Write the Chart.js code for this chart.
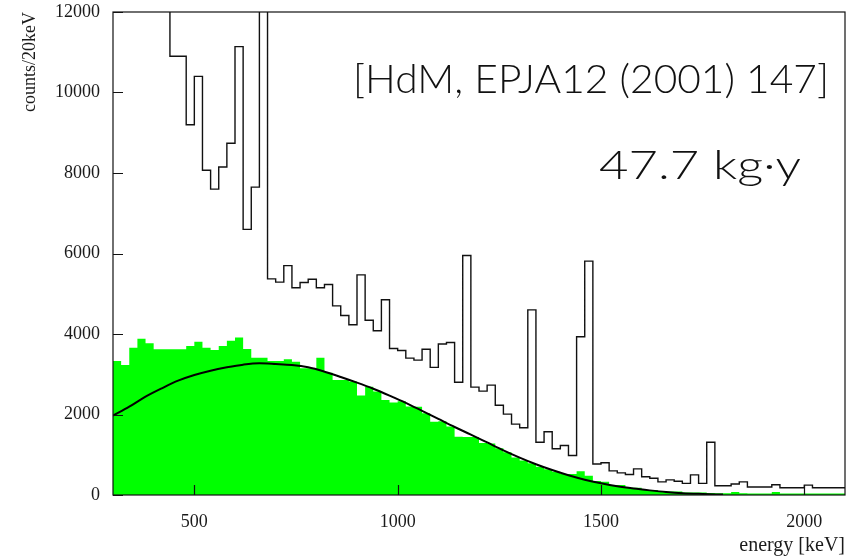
<!DOCTYPE html>
<html lang="en">
<head>
<meta charset="UTF-8">
<title>HdM spectrum</title>
<script src="https://cdn.jsdelivr.net/npm/chart.js"></script>
<style>
    body { margin: 0; background: #fff; }
    canvas { display: block; }
</style>
</head>
<body>
<canvas id="spectrum" width="848" height="558"></canvas>
<script>
// bin lower edges in keV (20 keV bins), last edge closes the histogram
const binEdges = [
    300, 320, 340, 360, 380, 400, 420, 440, 460, 480,
    500, 520, 540, 560, 580, 600, 620, 640, 660, 680,
    700, 720, 740, 760, 780, 800, 820, 840, 860, 880,
    900, 920, 940, 960, 980, 1000, 1020, 1040, 1060, 1080,
    1100, 1120, 1140, 1160, 1180, 1200, 1220, 1240, 1260, 1280,
    1300, 1320, 1340, 1360, 1380, 1400, 1420, 1440, 1460, 1480,
    1500, 1520, 1540, 1560, 1580, 1600, 1620, 1640, 1660, 1680,
    1700, 1720, 1740, 1760, 1780, 1800, 1820, 1840, 1860, 1880,
    1900, 1920, 1940, 1960, 1980, 2000, 2020, 2040, 2060, 2080
];
const lastEdge = 2100;

// full spectrum (black outline), values above 12000 run off the top
const totalCounts = [
    15000, 15000, 15000, 15000, 15000, 15000, 15000, 10900, 10900, 9200,
    10400, 8070, 7600, 8150, 8740, 11140, 6600, 7650, 20000, 5370,
    5290, 5700, 5150, 5280, 5360, 5150, 5230, 4700, 4460, 4230,
    5470, 4340, 4080, 4850, 3640, 3590, 3400, 3350, 3620, 3170,
    3750, 3790, 2800, 5950, 2680, 2580, 2730, 2230, 2010, 1760,
    1670, 4600, 1310, 1570, 1150, 1230, 980, 3930, 5810, 770,
    800, 600, 550, 510, 650, 455, 415, 325, 375, 340,
    290, 500, 290, 1310, 230, 230, 275, 325, 200, 200,
    200, 255, 180, 180, 180, 245, 180, 180, 180, 180
];

// after background subtraction (green)
const subtractedCounts = [
    3330, 3230, 3660, 3880, 3770, 3620, 3620, 3620, 3620, 3700,
    3810, 3660, 3600, 3700, 3830, 3910, 3630, 3410, 3410, 3330,
    3330, 3370, 3310, 3150, 3150, 3410, 3040, 2860, 2860, 2820,
    2470, 2690, 2570, 2360, 2300, 2330, 2200, 2190, 2030, 1820,
    1830, 1700, 1450, 1440, 1440, 1290, 1280, 1160, 1060, 930,
    860, 790, 700, 640, 580, 520, 520, 590, 480, 350,
    330, 250, 250, 180, 180, 125, 125, 85, 85, 85,
    60, 60, 60, 50, 45, 45, 75, 45, 40, 40,
    40, 75, 40, 40, 40, 40, 40, 40, 40, 40
];

// 2nbb fit curve
const fitEnergy = [300, 340, 380, 420, 460, 500, 540, 580, 620, 660, 700, 740, 780, 820, 860, 900, 940, 980,
    1020, 1060, 1100, 1140, 1180, 1220, 1260, 1300, 1340, 1380, 1420, 1460, 1500, 1540, 1580, 1620, 1660, 1700, 1750, 1800];
const fitCounts = [1970, 2194, 2443, 2650, 2840, 2981, 3089, 3172, 3238, 3272, 3255, 3230, 3172, 3064, 2932, 2791, 2640, 2470,
    2290, 2090, 1890, 1690, 1500, 1305, 1110, 930, 765, 620, 490, 380, 290, 215, 160, 115, 75, 45, 25, 10];

const xTickValues = [500, 1000, 1500, 2000];
const refText = '[HdM, EPJA12 (2001) 147]';
const exposureText = '47.7 kg\u00b7y';

function histPoints(counts) {
    const pts = binEdges.map((e, i) => ({ x: e, y: counts[i] }));
    pts.push({ x: lastEdge, y: counts[counts.length - 1] });
    return pts;
}

// draw text right-aligned at (x, y), stretched sideways to a given width
function wideText(ctx, text, x, y, width) {
    const w = ctx.measureText(text).width;
    ctx.save();
    ctx.translate(x, y);
    ctx.scale(width / w, 1);
    ctx.fillText(text, 0, 0);
    ctx.restore();
}

// frame box, inward tick marks and the two text labels
const framePlugin = {
    id: 'frame',
    afterDatasetsDraw(chart) {
        const { ctx, chartArea: a, scales } = chart;
        ctx.save();
        ctx.strokeStyle = '#111';
        ctx.lineWidth = 1.2;
        ctx.strokeRect(a.left, a.top, a.right - a.left, a.bottom - a.top);
        ctx.beginPath();
        scales.x.ticks.forEach(t => {
            const px = Math.round(scales.x.getPixelForValue(t.value)) + 0.5;
            ctx.moveTo(px, a.bottom);
            ctx.lineTo(px, a.bottom - 10);
        });
        scales.y.ticks.forEach(t => {
            const py = Math.round(scales.y.getPixelForValue(t.value)) + 0.5;
            ctx.moveTo(a.left, py);
            ctx.lineTo(a.left + 10, py);
        });
        ctx.stroke();

        ctx.fillStyle = '#111';
        ctx.textAlign = 'right';
        ctx.textBaseline = 'alphabetic';
        ctx.font = '300 40px Lato, "Open Sans", sans-serif';
        wideText(ctx, refText, 829, 93, 476);
        wideText(ctx, exposureText, 801, 179, 202);
        ctx.restore();
    }
};

const serif = '"Liberation Serif", serif';

new Chart(document.getElementById('spectrum'), {
    type: 'line',
    data: {
        datasets: [
            {
                label: 'fit',
                data: fitEnergy.map((e, i) => ({ x: e, y: fitCounts[i] })),
                borderColor: '#000',
                borderWidth: 2,
                pointRadius: 0,
                cubicInterpolationMode: 'monotone',
                fill: false,
                order: 1
            },
            {
                label: 'total',
                data: histPoints(totalCounts),
                borderColor: '#111',
                borderWidth: 1.4,
                pointRadius: 0,
                stepped: true,
                fill: false,
                order: 0
            },
            {
                label: 'subtracted',
                data: histPoints(subtractedCounts),
                borderWidth: 0,
                borderColor: 'rgba(0,0,0,0)',
                backgroundColor: '#00ff00',
                pointRadius: 0,
                stepped: true,
                fill: 'origin',
                order: 2
            }
        ]
    },
    options: {
        responsive: false,
        animation: false,
        layout: { padding: { top: 12, right: 3, left: 0, bottom: 0 } },
        plugins: {
            legend: { display: false },
            tooltip: { enabled: false }
        },
        scales: {
            x: {
                type: 'linear',
                min: 300,
                max: 2100,
                afterBuildTicks: s => { s.ticks = xTickValues.map(v => ({ value: v })); },
                afterFit: s => { s.height = 63; s.paddingLeft = 0; s.paddingRight = 0; },
                grid: { display: false, drawTicks: false },
                border: { display: false },
                ticks: {
                    padding: 16,
                    color: '#1a1a1a',
                    font: { family: serif, size: 18 },
                    callback: v => String(v)
                },
                title: {
                    display: true,
                    text: 'energy [keV]',
                    align: 'end',
                    color: '#1a1a1a',
                    font: { family: serif, size: 20 },
                    padding: { top: 0, bottom: 0 }
                }
            },
            y: {
                min: 0,
                max: 12000,
                afterFit: s => { s.width = 113; s.paddingTop = 0; s.paddingBottom = 0; },
                grid: { display: false, drawTicks: false },
                border: { display: false },
                ticks: {
                    stepSize: 2000,
                    padding: 13,
                    color: '#1a1a1a',
                    font: { family: serif, size: 18 },
                    callback: v => String(v)
                },
                title: {
                    display: true,
                    text: 'counts/20keV',
                    align: 'end',
                    color: '#1a1a1a',
                    font: { family: serif, size: 18 },
                    padding: { top: 19, bottom: 0 }
                }
            }
        }
    },
    plugins: [framePlugin]
});
</script>
</body>
</html>
